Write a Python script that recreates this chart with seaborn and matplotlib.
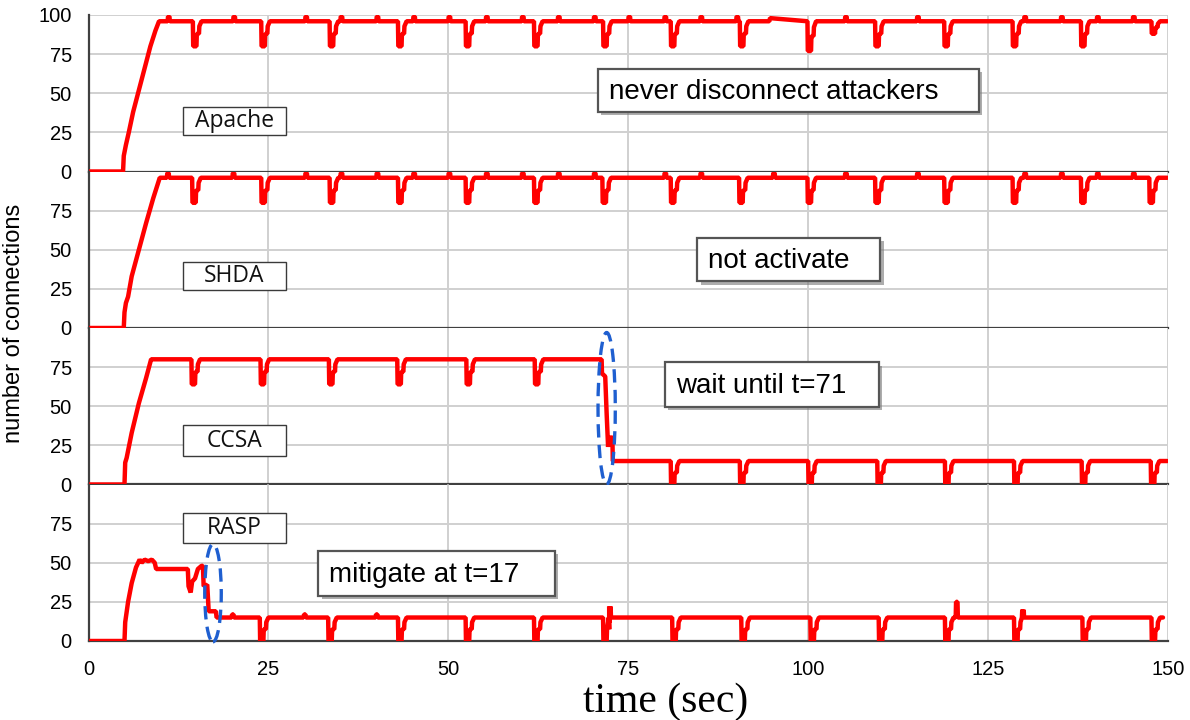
import matplotlib
matplotlib.use("Agg")
import matplotlib.pyplot as plt
import matplotlib.patheffects as pe
from matplotlib.patches import Rectangle, Ellipse
import numpy as np
import pandas as pd
import seaborn as sns

# ---------------- data ----------------
panel_names = ["Apache", "SHDA", "CCSA", "RASP"]
notes = ["never disconnect attackers", "not activate", "wait until t=71", "mitigate at t=17"]
x_ticks = [0, 25, 50, 75, 100, 125, 150]
y_ticks = [0, 25, 50, 75]
y_ticks_top = [0, 25, 50, 75, 100]

# shape of one periodic dip (offset in s, fraction of the drop) and of a small bump
dip_dt = [0.0, 0.05, 0.5, 0.55, 0.85, 0.9, 1.2]
dip_frac = [0.0, 1.0, 1.0, 0.5, 0.5, 0.2, 0.0]
bump_dt = [0.0, 0.05, 0.25, 0.3]
bump_on = [0, 1, 1, 0]

# Apache
apache_head_t = [0, 4.8, 4.9, 5.2, 5.6, 6.2, 7.0, 7.8, 8.6, 9.3, 9.8]
apache_head_v = [0, 0, 10, 17, 25, 38, 52, 66, 80, 90, 96]
apache_level = 96
apache_dip_t = [14.5, 24.0, 33.5, 43.0, 52.4, 61.9, 71.5, 80.9, 90.5, 99.9, 109.3, 118.9, 128.4, 137.9, 147.7]
apache_dip_min = [80, 80, 80, 80, 80, 80, 80, 80, 80, 77, 80, 80, 80, 80, 88]
apache_bump_t = [11.0, 20.1, 30.1, 35.0, 40.0, 45.1, 50.0, 55.2, 60.2, 65.2, 70.2, 75.0, 80.0, 85.0,
                 90.0, 105.1, 115.1, 130.0, 135.1, 140.1, 145.1]
apache_bump_h = [3] * len(apache_bump_t)
apache_extra_t = [94.6, 94.7]          # slow slope before the dip at ~100
apache_extra_v = [96, 98]

# SHDA
shda_head_t = [0, 4.9, 5.0, 5.2, 5.5, 6.0, 7.0, 8.0, 9.0, 9.9]
shda_head_v = [0, 0, 10, 16, 20, 33, 50, 67, 83, 96]
shda_level = 96
shda_dip_t = [14.4, 24.0, 33.5, 43.0, 52.4, 61.9, 71.4, 80.9, 90.4, 99.9, 109.3, 118.9, 128.4, 137.9, 147.4]
shda_dip_min = [80] * len(shda_dip_t)
shda_bump_t = [10.9, 20.0, 30.1, 35.0, 40.0, 45.1, 50.0, 55.2, 60.2, 65.2, 70.2, 80.0, 85.0, 95.1,
               105.1, 115.1, 130.0, 135.1, 140.1, 145.1]
shda_bump_h = [3] * len(shda_bump_t)

# CCSA
ccsa_head_t = [0, 5.0, 5.1, 5.3, 6.0, 7.0, 8.0, 8.7]
ccsa_head_v = [0, 0, 14, 17, 33, 52, 68, 80]
ccsa_level_1 = 80
ccsa_dip_t_1 = [14.3, 23.9, 33.4, 42.9, 52.5, 62.0]
ccsa_dip_min_1 = [64] * len(ccsa_dip_t_1)
ccsa_drop_t = [71.3, 71.35, 71.8, 72.0, 72.2, 72.3, 72.8, 72.85]
ccsa_drop_v = [80, 71, 69, 45, 24, 30, 30, 15]
ccsa_level_2 = 15
ccsa_dip_t_2 = [80.9, 90.5, 100.0, 109.6, 119.0, 128.6, 138.0, 147.6]
ccsa_dip_min_2 = [0] * len(ccsa_dip_t_2)

# RASP
rasp_head_t = [0, 5.0, 5.1, 5.5, 6.0, 6.6, 7.1, 7.4, 7.8, 8.3, 8.8, 9.2, 9.4, 13.8, 13.9, 14.2,
               14.4, 14.8, 15.2, 15.7, 15.9, 16.0, 16.5, 16.7, 17.7, 17.8]
rasp_head_v = [0, 0, 12, 25, 37, 47, 52, 50, 52, 51, 52, 50, 46, 46, 35, 31,
               38, 40, 46, 48, 48, 35, 36, 19, 19, 15]
rasp_level = 15
rasp_dip_t = [23.8, 33.3, 43.0, 52.4, 61.9, 71.5, 81.1, 90.7, 100.3, 109.8, 119.0, 128.6, 138.1, 147.7]
rasp_dip_min = [0] * len(rasp_dip_t)
rasp_bump_t = [19.9, 29.9, 39.9, 72.3, 120.5, 129.7]
rasp_bump_h = [2, 2, 2, 7, 10, 5]


def steady(level, t0, t1, dip_t, dip_min, bump_t=(), bump_h=()):
    pts = [(t0, level)]
    for td, m in zip(dip_t, dip_min):
        for dt, f in zip(dip_dt, dip_frac):
            pts.append((td + dt, level - f * (level - m)))
    for tb, h in zip(bump_t, bump_h):
        for dt, on in zip(bump_dt, bump_on):
            pts.append((tb + dt, level + on * h))
    pts.append((t1, level))
    return pts


def frame(*parts):
    pts = []
    for p in parts:
        pts.extend(p)
    pts.sort(key=lambda p: p[0])
    return pd.DataFrame(pts, columns=["t", "v"])


series = [
    frame(list(zip(apache_head_t, apache_head_v)),
          steady(apache_level, 9.9, 149.9, apache_dip_t, apache_dip_min, apache_bump_t, apache_bump_h),
          list(zip(apache_extra_t, apache_extra_v))),
    frame(list(zip(shda_head_t, shda_head_v)),
          steady(shda_level, 10.0, 149.9, shda_dip_t, shda_dip_min, shda_bump_t, shda_bump_h)),
    frame(list(zip(ccsa_head_t, ccsa_head_v)),
          steady(ccsa_level_1, 8.8, 71.25, ccsa_dip_t_1, ccsa_dip_min_1),
          list(zip(ccsa_drop_t, ccsa_drop_v)),
          steady(ccsa_level_2, 72.9, 149.9, ccsa_dip_t_2, ccsa_dip_min_2)),
    frame(list(zip(rasp_head_t, rasp_head_v)),
          steady(rasp_level, 17.9, 149.3, rasp_dip_t, rasp_dip_min, rasp_bump_t, rasp_bump_h)),
]

# name boxes (t0, t1, v0, v1) and note boxes
name_boxes = [(13.1, 27.4, 23.6, 41.4), (13.1, 27.4, 24.3, 42.2),
              (13.1, 27.4, 17.9, 37.7), (13.1, 27.4, 62.6, 81.8)]
note_boxes = [(70.8, 123.7, 38.3, 65.8), (84.6, 110.0, 30.0, 57.5),
              (80.1, 109.8, 49.8, 78.0), (31.9, 64.8, 28.8, 57.5)]
ellipses = {2: (72.0, 48.6, 2.4, 97.0), 3: (17.3, 30.7, 2.3, 62.4)}

# ---------------- drawing ----------------
sns.set_style("whitegrid")
plt.rcParams["font.family"] = ["Liberation Sans", "DejaVu Sans"]

fig = plt.figure(figsize=(11.9, 7.2), dpi=100)
axes = fig.subplots(4, 1, sharex=True)
fig.subplots_adjust(left=88.5 / 1190, right=1168 / 1190, top=1 - 15 / 720,
                    bottom=1 - 641 / 720, hspace=0)

grid_c = "#d0d0d0"
dark = "#404040"
for i, ax in enumerate(axes):
    df = series[i]
    sns.lineplot(data=df, x="t", y="v", ax=ax, color="#ff0000", linewidth=3.2,
                 estimator=None, sort=False, zorder=4, solid_joinstyle="bevel")
    ax.set_xlim(0, 150)
    ax.set_ylim(0, 100)
    ax.set_xticks(x_ticks)
    ax.set_yticks(y_ticks_top if i == 0 else y_ticks)
    ax.grid(True, color=grid_c, linewidth=1.4)
    ax.set_facecolor("white")
    for s in ["top", "right"]:
        ax.spines[s].set_visible(False)
    for s in ["left", "bottom"]:
        ax.spines[s].set_visible(True)
        ax.spines[s].set_color(dark)
        ax.spines[s].set_linewidth(1.6)
        ax.spines[s].set_zorder(3)
    ax.tick_params(axis="both", length=0, labelsize=14.5, colors="black")
    ax.tick_params(axis="y", pad=12)
    ax.tick_params(axis="x", pad=14)
    ax.set_xlabel("")
    ax.set_ylabel("")

    # name box
    t0, t1, v0, v1 = name_boxes[i]
    ax.add_patch(Rectangle((t0, v0), t1 - t0, v1 - v0, facecolor="white",
                           edgecolor="#3a3a3a", linewidth=1.0, zorder=5))
    ax.text((t0 + t1) / 2, (v0 + v1) / 2, panel_names[i], ha="center", va="center",
            fontsize=16.5, family=["Open Sans", "DejaVu Sans"], color="#111111", zorder=6)

    # note box with shadow
    t0, t1, v0, v1 = note_boxes[i]
    r = Rectangle((t0, v0), t1 - t0, v1 - v0, facecolor="white",
                  edgecolor="#555555", linewidth=1.6, zorder=5)
    r.set_path_effects([pe.SimplePatchShadow(offset=(2.5, -2.5), shadow_rgbFace="#777777", alpha=0.6),
                        pe.Normal()])
    ax.add_patch(r)
    ax.text(t0 + 1.55, (v0 + v1) / 2 - 1, notes[i], ha="left", va="center",
            fontsize=20, color="black", zorder=6)

    if i in ellipses:
        cx, cy, w, h = ellipses[i]
        ax.add_patch(Ellipse((cx, cy), w, h, fill=False, edgecolor="#1f5fd0",
                             linewidth=2.4, linestyle=(0, (4, 2.2)), zorder=7, clip_on=False))

fig.text(14 / 1190, 1 - 323 / 720, "number of connections", rotation=90,
         ha="center", va="center", fontsize=17, color="black")
fig.text(666 / 1190, 1 - 712 / 720, "time (sec)", ha="center", va="baseline",
         fontsize=30, family=["Liberation Serif", "DejaVu Serif"], color="black")

fig.savefig("out.png", dpi=100)
